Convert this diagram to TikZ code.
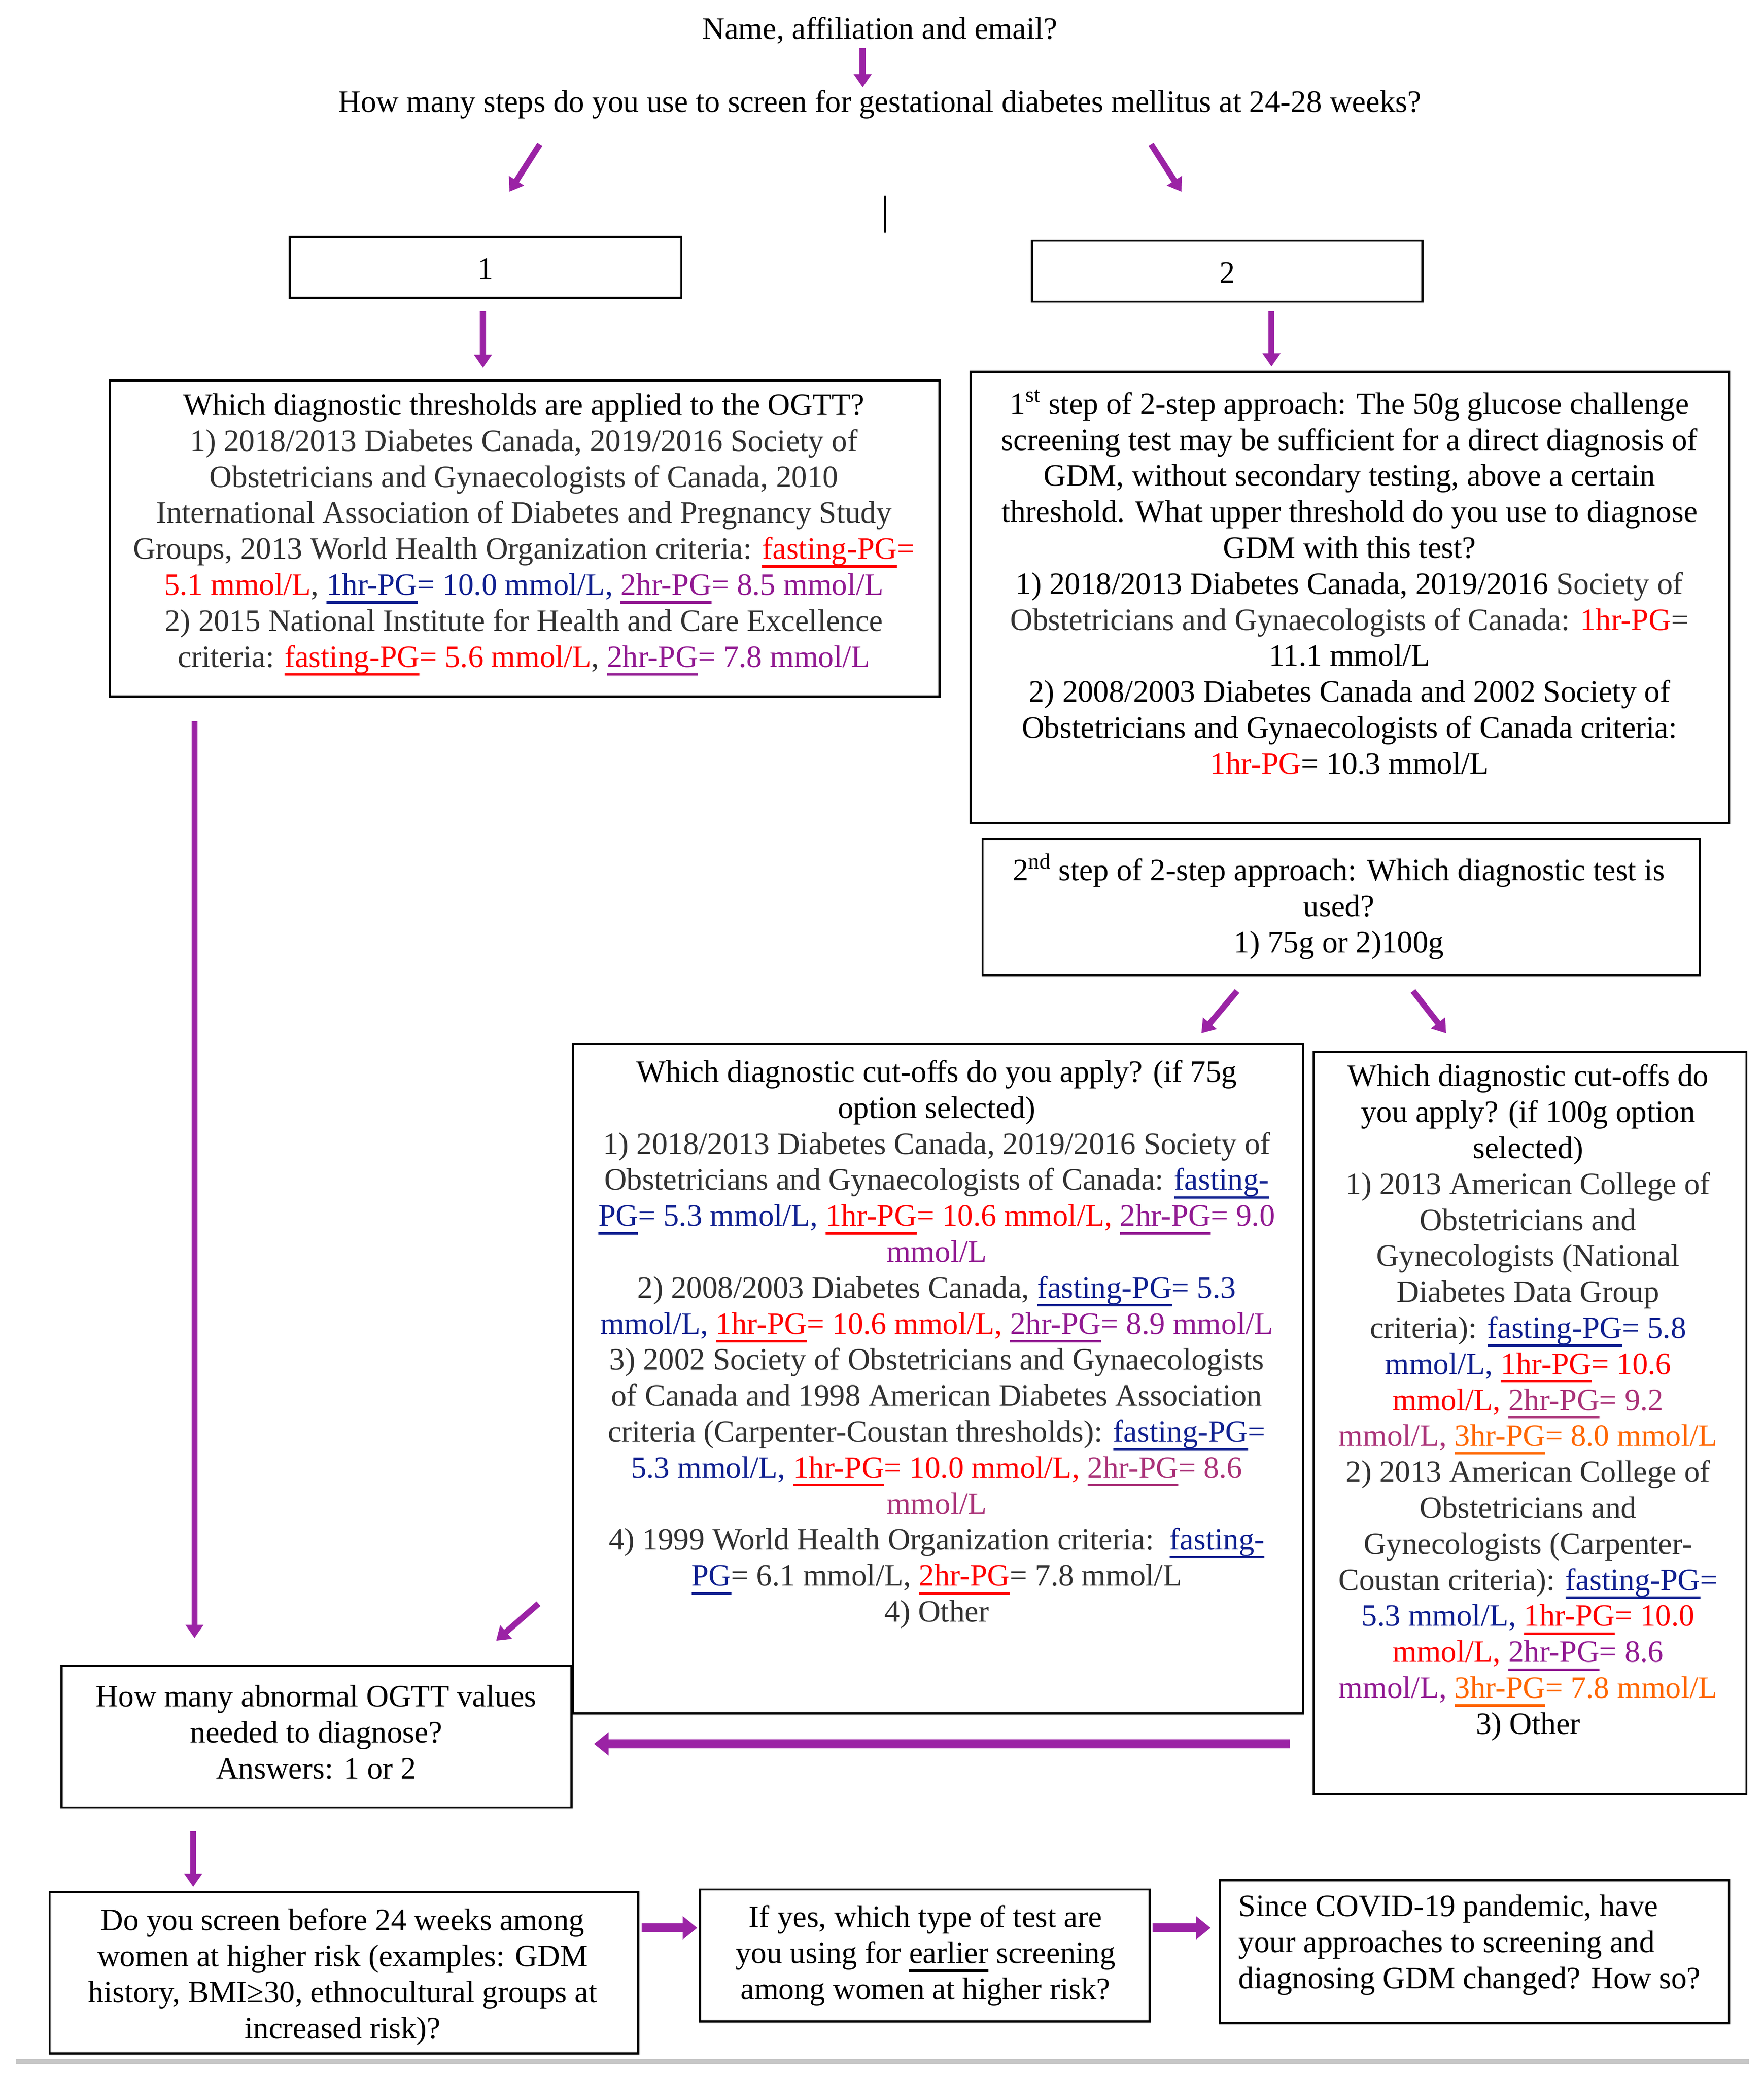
\documentclass[tikz,border=0pt]{standalone}
\usepackage{fontspec}
\setmainfont{Liberation Serif}
\usetikzlibrary{arrows.meta}
\definecolor{arrc}{RGB}{155,35,165}
\definecolor{txtg}{RGB}{50,50,50}
\definecolor{myred}{RGB}{255,0,0}
\definecolor{myblue}{RGB}{16,32,144}
\definecolor{mypurple}{RGB}{145,25,145}
\definecolor{myplum}{RGB}{170,50,120}
\definecolor{myorange}{RGB}{255,102,0}
\newcommand\ulc[1]{\sbox0{#1}\makebox[0pt][l]{\raisebox{-6.5pt}{\rule{\wd0}{1.8pt}}}\usebox0}
\newcommand\cG[1]{\textcolor{txtg}{#1}}
\newcommand\cR[1]{\textcolor{myred}{#1}}
\newcommand\cB[1]{\textcolor{myblue}{#1}}
\newcommand\cP[1]{\textcolor{mypurple}{#1}}
\newcommand\cM[1]{\textcolor{myplum}{#1}}
\newcommand\cO[1]{\textcolor{myorange}{#1}}
\tikzset{
  box/.style={draw=black, line width=1.6pt, inner sep=0pt},
  txt/.style={align=center, inner sep=0pt, font=\fontsize{23.5}{27.2}\selectfont, text=black},
  parr/.style={draw=arrc, line width=4.5pt, -{Triangle[width=13pt,length=10pt]}},
  pbig/.style={draw=arrc, line width=7pt, -{Triangle[width=17pt,length=11pt]}},
}
\begin{document}
\begin{tikzpicture}[x=1pt,y=-1pt]
\useasboundingbox[fill=white] (0,0) rectangle (1333,1570.5);

% boxes
\node[box, minimum width=296pt, minimum height=46pt] (b1) at (367,202) {};
\node[box, minimum width=295pt, minimum height=46pt] (b2) at (927.5,205) {};
\node[box, minimum width=627pt, minimum height=239pt] (ogtt) at (396.5,407) {};
\node[box, minimum width=573.5pt, minimum height=341pt] (step1) at (1020.25,451.5) {};
\node[box, minimum width=542pt, minimum height=103pt] (step2) at (1013.65,685.5) {};
\node[box, minimum width=552pt, minimum height=506pt] (g75) at (709,1042) {};
\node[box, minimum width=327pt, minimum height=561pt] (g100) at (1156.5,1075.5) {};
\node[box, minimum width=385.4pt, minimum height=107pt] (abn) at (239.3,1312.5) {};
\node[box, minimum width=445pt, minimum height=122pt] (early) at (260,1491) {};
\node[box, minimum width=340pt, minimum height=99.6pt] (ifyes) at (699,1477.8) {};
\node[box, minimum width=384.8pt, minimum height=108pt] (covid) at (1114.4,1475) {};

% texts
\node[txt] (tname) at (665,23) {Name, affiliation and email?};
\node[txt] (tsteps) at (665,79) {How many steps do you use to screen for gestational diabetes mellitus at 24-28 weeks?};
\node[txt] (t1) at (367,203) {1};
\node[txt] (t2) at (927.5,206) {2};

\node[txt] (togtt) at (396,404) {Which diagnostic thresholds are applied to the OGTT?\\
\cG{1) 2018/2013 Diabetes Canada, 2019/2016 Society of}\\
\cG{Obstetricians and Gynaecologists of Canada, 2010}\\
\cG{International Association of Diabetes and Pregnancy Study}\\
\cG{Groups, 2013 World Health Organization criteria: }\cR{\ulc{fasting-PG}=}\\
\cR{5.1 mmol/L}\cG{, }\cB{\ulc{1hr-PG}= 10.0 mmol/L, }\cP{\ulc{2hr-PG}= 8.5 mmol/L}\\
\cG{2) 2015 National Institute for Health and Care Excellence}\\
\cG{criteria: }\cR{\ulc{fasting-PG}= 5.6 mmol/L}\cG{, }\cP{\ulc{2hr-PG}= 7.8 mmol/L}};

\node[txt] (tstep1) at (1020,440) {1\textsuperscript{st} step of 2-step approach: The 50g glucose challenge\\
screening test may be sufficient for a direct diagnosis of\\
GDM, without secondary testing, above a certain\\
threshold. What upper threshold do you use to diagnose\\
GDM with this test?\\
1) 2018/2013 Diabetes Canada, 2019/2016 \cG{Society of}\\
\cG{Obstetricians and Gynaecologists of Canada: }\cR{1hr-PG}\cG{=}\\
11.1 mmol/L\\
2) 2008/2003 Diabetes Canada and 2002 Society of\\
Obstetricians and Gynaecologists of Canada criteria:\\
\cR{1hr-PG}= 10.3 mmol/L};

\node[txt] (tstep2) at (1012,685) {2\textsuperscript{nd} step of 2-step approach: Which diagnostic test is\\
used?\\
1) 75g or 2)100g};

\node[txt] (tg75) at (708,1016) {Which diagnostic cut-offs do you apply? (if 75g\\
option selected)\\
\cG{1) 2018/2013 Diabetes Canada, 2019/2016 Society of}\\
\cG{Obstetricians and Gynaecologists of Canada: }\cB{\ulc{fasting-}}\\
\cB{\ulc{PG}= 5.3 mmol/L, }\cR{\ulc{1hr-PG}= 10.6 mmol/L, }\cP{\ulc{2hr-PG}= 9.0}\\
\cP{mmol/L}\\
\cG{2) 2008/2003 Diabetes Canada, }\cB{\ulc{fasting-PG}= 5.3}\\
\cB{mmol/L, }\cR{\ulc{1hr-PG}= 10.6 mmol/L, }\cP{\ulc{2hr-PG}= 8.9 mmol/L}\\
\cG{3) 2002 Society of Obstetricians and Gynaecologists}\\
\cG{of Canada and 1998 American Diabetes Association}\\
\cG{criteria (Carpenter-Coustan thresholds): }\cB{\ulc{fasting-PG}=}\\
\cB{5.3 mmol/L, }\cR{\ulc{1hr-PG}= 10.0 mmol/L, }\cM{\ulc{2hr-PG}= 8.6}\\
\cM{mmol/L}\\
\cG{4) 1999 World Health Organization criteria:\ \ }\cB{\ulc{fasting-}}\\
\cB{\ulc{PG}}\cG{= 6.1 mmol/L, }\cR{\ulc{2hr-PG}}\cG{= 7.8 mmol/L}\\
\cG{4) Other}};

\node[txt] (tg100) at (1155,1060) {Which diagnostic cut-offs do\\
you apply? (if 100g option\\
selected)\\
\cG{1) 2013 American College of}\\
\cG{Obstetricians and}\\
\cG{Gynecologists (National}\\
\cG{Diabetes Data Group}\\
\cG{criteria): }\cB{\ulc{fasting-PG}= 5.8}\\
\cB{mmol/L, }\cR{\ulc{1hr-PG}= 10.6}\\
\cR{mmol/L, }\cM{\ulc{2hr-PG}= 9.2}\\
\cM{mmol/L, }\cO{\ulc{3hr-PG}= 8.0 mmol/L}\\
\cG{2) 2013 American College of}\\
\cG{Obstetricians and}\\
\cG{Gynecologists (Carpenter-}\\
\cG{Coustan criteria): }\cB{\ulc{fasting-PG}=}\\
\cB{5.3 mmol/L, }\cR{\ulc{1hr-PG}= 10.0}\\
\cR{mmol/L, }\cP{\ulc{2hr-PG}= 8.6}\\
\cP{mmol/L, }\cO{\ulc{3hr-PG}= 7.8 mmol/L}\\
3) Other};

\node[txt] (tabn) at (239,1309) {How many abnormal OGTT values\\
needed to diagnose?\\
Answers: 1 or 2};

\node[txt] (tearly) at (259,1494) {Do you screen before 24 weeks among\\
women at higher risk (examples: GDM\\
history, BMI≥30, ethnocultural groups at\\
increased risk)?};

\node[txt] (tifyes) at (699.5,1478) {If yes, which type of test are\\
you using for \ulc{earlier} screening\\
among women at higher risk?};

\node[txt, align=left, anchor=west] (tcovid) at (936,1470) {Since COVID-19 pandemic, have\\
your approaches to screening and\\
diagnosing GDM changed? How so?};

% arrow end points
\coordinate (a1s) at (652,36);   \coordinate (a1e) at (652,66);
\coordinate (a2s) at (408,109);  \coordinate (a2e) at (385,145);
\coordinate (a3s) at (870,109);  \coordinate (a3e) at (893,145);
\coordinate (a4s) at (365,235);  \coordinate (a4e) at (365,278);
\coordinate (a5s) at (961,235);  \coordinate (a5e) at (961,277);
\coordinate (a6s) at (935,749);  \coordinate (a6e) at (908,781);
\coordinate (a7s) at (1068,749); \coordinate (a7e) at (1093,781);
\coordinate (a8s) at (147,545);  \coordinate (a8e) at (147,1238);
\coordinate (a9s) at (407,1212); \coordinate (a9e) at (375,1240);
\coordinate (a10s) at (975,1318); \coordinate (a10e) at (449,1318);
\coordinate (a11s) at (146,1384); \coordinate (a11e) at (146,1426);
\coordinate (a12s) at (485,1457); \coordinate (a12e) at (527,1457);
\coordinate (a13s) at (871,1457); \coordinate (a13e) at (915,1457);
\coordinate (vl1) at (669,148);  \coordinate (vl2) at (669,176);
\coordinate (gl1) at (12,1558);  \coordinate (gl2) at (1322,1558);

\draw[parr] (a1s) -- (a1e);
\draw[parr] (a2s) -- (a2e);
\draw[parr] (a3s) -- (a3e);
\draw[parr] (a4s) -- (a4e);
\draw[parr] (a5s) -- (a5e);
\draw[parr] (a6s) -- (a6e);
\draw[parr] (a7s) -- (a7e);
\draw[parr] (a8s) -- (a8e);
\draw[parr] (a9s) -- (a9e);
\draw[pbig] (a10s) -- (a10e);
\draw[parr] (a11s) -- (a11e);
\draw[pbig] (a12s) -- (a12e);
\draw[pbig] (a13s) -- (a13e);
\draw[line width=1.6pt] (vl1) -- (vl2);
\draw[line width=4pt, color=black!22] (gl1) -- (gl2);
\end{tikzpicture}
\end{document}
